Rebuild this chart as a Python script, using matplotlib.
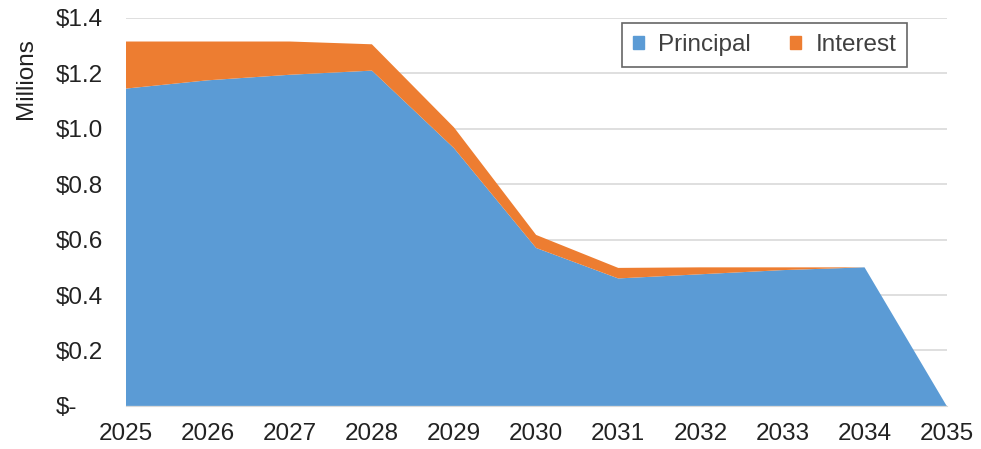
import matplotlib
matplotlib.use('Agg')
import matplotlib.pyplot as plt
from matplotlib.patches import Patch
from matplotlib.ticker import FuncFormatter

plt.rcParams['font.family'] = ['Liberation Sans', 'DejaVu Sans']

years = [2025, 2026, 2027, 2028, 2029, 2030, 2031, 2032, 2033, 2034, 2035]
# millions of dollars
principal = [1.145, 1.175, 1.195, 1.21, 0.93, 0.57, 0.46, 0.475, 0.49, 0.50, 0.0]
interest = [0.17, 0.14, 0.12, 0.095, 0.075, 0.047, 0.038, 0.025, 0.01, 0.0, 0.0]

blue = '#5B9BD5'
orange = '#ED7D31'

fig = plt.figure(figsize=(9.81, 4.49), dpi=100)
ax = fig.add_axes([0.128, 0.096, 0.837, 0.864])

ax.stackplot(years, principal, interest, colors=[blue, orange], linewidth=0)

ax.set_xlim(2025, 2035)
ax.set_ylim(0, 1.4)
ax.set_xticks(years)
ax.set_yticks([0, 0.2, 0.4, 0.6, 0.8, 1.0, 1.2, 1.4])
ax.yaxis.set_major_formatter(FuncFormatter(lambda v, p: '$-' if v == 0 else f'${v:.1f}'))
ax.tick_params(labelsize=17.5, length=0, colors='#222222')
ax.tick_params(axis='x', pad=12)
ax.tick_params(axis='y', pad=50)
for lab in ax.get_yticklabels():
    lab.set_horizontalalignment('left')

ax.grid(axis='y', color='#d9d9d9', linewidth=1.2)
ax.set_axisbelow(True)
for s in ['top', 'right', 'left']:
    ax.spines[s].set_visible(False)
ax.spines['bottom'].set_color('#d9d9d9')

ax.set_ylabel('Millions', fontsize=17.5, color='#222222')
ax.yaxis.set_label_coords(-0.108, 0.845)

handles = [Patch(color=blue, label='Principal'), Patch(color=orange, label='Interest')]
leg = ax.legend(handles=handles, loc='upper right', bbox_to_anchor=(0.958, 1.0), ncol=2,
                fontsize=17.5, frameon=True, fancybox=False, handlelength=0.45, handleheight=0.45,
                handletextpad=0.6, columnspacing=1.6, borderpad=0.45, borderaxespad=0.2,
                labelcolor='#404040')
leg.get_frame().set_edgecolor('#404040')
leg.get_frame().set_linewidth(1.2)

fig.savefig('out.png', dpi=100)
